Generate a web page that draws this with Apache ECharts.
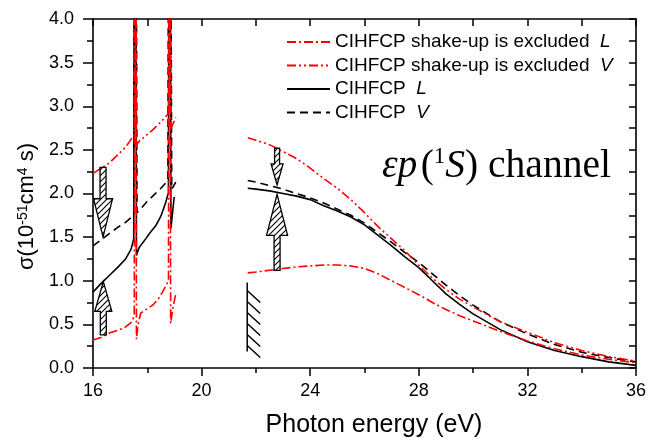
<!DOCTYPE html>
<html><head><meta charset="utf-8">
<script src="https://cdn.jsdelivr.net/npm/echarts@6/dist/echarts.min.js"></script>
<style>html,body{margin:0;padding:0;background:#fff}#c{width:662px;height:443px}</style>
</head><body><div id="c"></div>
<script>
// ---------- data ----------
const xTicks = [16, 20, 24, 28, 32, 36];
const yTicks = [0, 0.5, 1, 1.5, 2, 2.5, 3, 3.5, 4];

// left part (below 19.1 eV), with the two resonances
const redL_x = [16, 16.3, 16.6, 16.9, 17.2, 17.4, 17.52, 17.565, 17.6, 17.66, 17.76, 18.0, 18.2, 18.4, 18.56, 18.7, 18.78, 18.815, 18.86, 18.95, 19.05];
const redL_y = [0.32, 0.35, 0.40, 0.43, 0.47, 0.52, 0.59, 10, 0.33, 0.50, 0.63, 0.68, 0.72, 0.79, 0.87, 0.95, 1.00, 10, 0.51, 0.70, 0.85];
const redV_x = [16, 16.3, 16.6, 16.9, 17.2, 17.4, 17.52, 17.56, 17.6, 17.7, 17.9, 18.2, 18.5, 18.7, 18.79, 18.825, 18.87, 19.05];
const redV_y = [2.23, 2.29, 2.35, 2.44, 2.53, 2.62, 2.68, 10, 2.56, 2.60, 2.65, 2.73, 2.82, 2.89, 2.92, 10, 2.75, 2.87];
const solL_x = [16, 16.3, 16.6, 16.9, 17.2, 17.4, 17.5, 17.555, 17.6, 17.7, 17.94, 18.1, 18.31, 18.5, 18.68, 18.78, 18.815, 18.87, 18.99];
const solL_y = [0.87, 0.97, 1.06, 1.15, 1.25, 1.36, 1.48, 10, 1.29, 1.38, 1.48, 1.55, 1.63, 1.74, 1.90, 2.01, 10, 1.60, 1.96];
const dasV_x = [16, 16.3, 16.6, 16.9, 17.2, 17.5, 17.56, 17.62, 17.8, 18.0, 18.2, 18.5, 18.76, 18.82, 18.9, 19.05];
const dasV_y = [1.40, 1.47, 1.54, 1.61, 1.67, 1.75, 10, 1.78, 1.84, 1.91, 1.97, 2.06, 2.15, 10, 2.05, 2.13];

// right part (above 21.7 eV)
const xRight = [21.7, 22, 22.5, 23, 23.5, 24, 24.5, 25, 25.5, 26, 26.5, 27, 27.5, 28, 28.5, 29, 29.5, 30, 31, 32, 33, 34, 35, 36];
const redL_r = [1.09, 1.10, 1.12, 1.14, 1.16, 1.17, 1.18, 1.18, 1.17, 1.14, 1.08, 1.00, 0.92, 0.84, 0.75, 0.67, 0.60, 0.54, 0.42, 0.31, 0.22, 0.15, 0.10, 0.06];
const redV_r = [2.64, 2.61, 2.56, 2.48, 2.40, 2.29, 2.17, 2.06, 1.93, 1.78, 1.62, 1.48, 1.34, 1.18, 1.03, 0.90, 0.79, 0.70, 0.53, 0.41, 0.29, 0.20, 0.13, 0.08];
const solL_r = [2.06, 2.05, 2.03, 2.00, 1.97, 1.93, 1.86, 1.80, 1.73, 1.64, 1.52, 1.40, 1.27, 1.15, 1.00, 0.85, 0.73, 0.62, 0.44, 0.30, 0.20, 0.13, 0.07, 0.03];
const dasV_r = [2.15, 2.13, 2.09, 2.05, 2.00, 1.95, 1.89, 1.82, 1.75, 1.66, 1.55, 1.44, 1.32, 1.21, 1.08, 0.95, 0.83, 0.72, 0.53, 0.39, 0.27, 0.18, 0.12, 0.07];

// annotation arrows: [x, tail, headBase, tip]
const arrows = [
  [16.37, 2.30, 1.94, 1.50],
  [16.38, 0.38, 0.65, 0.99],
  [22.78, 2.52, 2.34, 2.10],
  [22.78, 1.12, 1.52, 1.99]
];
// hatched threshold marker: [x, top, bottom]
const threshold = [[21.68, 0.98, 0.19]];

const names = ['exL', 'exV', 'L', 'V'];
const legendText = {
  exL: '{n|CIHFCP shake-up is excluded}  {i|L}',
  exV: '{n|CIHFCP shake-up is excluded}  {i|V}',
  L: '{n|CIHFCP}  {i|L}',
  V: '{n|CIHFCP}  {i|V}'
};

// ---------- helpers ----------
const SANS = 'Liberation Sans, Arial, sans-serif';
const SERIF = 'Liberation Serif, Times New Roman, serif';
function pairs(xs, ys) { return xs.map((x, i) => [x, ys[i]]); }
function joined(xl, yl, yr) { return pairs(xl, yl).concat([[20, '-']]).concat(pairs(xRight, yr)); }

const pat = document.createElement('canvas');
pat.width = 6; pat.height = 6;
(function () {
  const c = pat.getContext('2d');
  c.fillStyle = '#fff'; c.fillRect(0, 0, 6, 6);
  c.strokeStyle = '#000'; c.lineWidth = 1.1;
  c.beginPath();
  c.moveTo(-1, 7); c.lineTo(7, -1);
  c.moveTo(-4, 4); c.lineTo(4, -4);
  c.moveTo(2, 10); c.lineTo(10, 2);
  c.stroke();
})();

const arrowW = [[6, 19], [6, 17], [5, 12], [6, 21]]; // shaft, head widths (px)

const chart = echarts.init(document.getElementById('c'), null, { renderer: 'canvas' });

const lineBase = { type: 'line', symbol: 'none', showSymbol: false, connectNulls: false, clip: true, smooth: false, z: 3 };

chart.setOption({
  animation: false,
  backgroundColor: '#fff',
  grid: { left: 93, right: 26, top: 19, bottom: 73, containLabel: false },
  legend: {
    orient: 'vertical', left: 281, top: 26.5,
    itemWidth: 43, itemHeight: 14, itemGap: 2.5,
    itemStyle: { opacity: 0 },
    data: names,
    formatter: n => legendText[n],
    textStyle: {
      color: '#000', fontFamily: SANS, fontSize: 19, lineHeight: 21,
      rich: {
        n: { fontFamily: SANS, fontSize: 19, color: '#000', lineHeight: 21 },
        i: { fontFamily: SANS, fontSize: 19, fontStyle: 'italic', color: '#000', lineHeight: 21 }
      }
    }
  },
  xAxis: [{
    type: 'value', position: 'bottom', min: 16, max: 36, interval: 4,
    name: 'Photon energy (eV)', nameLocation: 'middle', nameGap: 45,
    nameTextStyle: { fontFamily: SANS, fontSize: 25, color: '#000', padding: [0, 0, 0, 19] },
    axisLine: { show: true, onZero: false, lineStyle: { color: '#000', width: 1.6 } },
    axisTick: { show: true, inside: false, length: 8, lineStyle: { color: '#000', width: 1.5 } },
    minorTick: { show: true, splitNumber: 2, length: 5, lineStyle: { color: '#000', width: 1.5 } },
    axisLabel: { color: '#000', fontFamily: SANS, fontSize: 18, margin: 14, formatter: v => String(v) },
    splitLine: { show: false }
  }, {
    type: 'value', position: 'top', min: 16, max: 36, interval: 2,
    axisLine: { show: true, onZero: false, lineStyle: { color: '#000', width: 1.6 } },
    axisTick: { show: true, inside: true, length: 7, lineStyle: { color: '#000', width: 1.5 } },
    axisLabel: { show: false }, splitLine: { show: false }
  }],
  yAxis: [{
    type: 'value', position: 'left', min: 0, max: 4, interval: 0.5,
    name: '{a|σ(10}{s|-51}{a|cm}{s|4}{a| s)}', nameLocation: 'middle', nameGap: 50,
    nameTextStyle: {
      color: '#000', padding: [0, 0, 0, -26],
      rich: {
        a: { fontFamily: SANS, fontSize: 22, color: '#000' },
        s: { fontFamily: SANS, fontSize: 14, color: '#000', verticalAlign: 'top', padding: [0, 0, 8, 0] }
      }
    },
    axisLine: { show: true, onZero: false, lineStyle: { color: '#000', width: 1.6 } },
    axisTick: { show: true, inside: false, length: 10, lineStyle: { color: '#000', width: 1.5 } },
    minorTick: { show: true, splitNumber: 2, length: 6, lineStyle: { color: '#000', width: 1.5 } },
    axisLabel: { color: '#000', fontFamily: SANS, fontSize: 18, margin: 19, formatter: v => v.toFixed(1) },
    splitLine: { show: false }
  }, {
    type: 'value', position: 'right', min: 0, max: 4, interval: 0.25,
    axisLine: { show: true, onZero: false, lineStyle: { color: '#000', width: 1.6 } },
    axisTick: { show: true, inside: true, length: 7, lineStyle: { color: '#000', width: 1.5 } },
    axisLabel: { show: false }, splitLine: { show: false }
  }],
  series: [
    Object.assign({}, lineBase, { name: 'L', data: joined(solL_x, solL_y, solL_r),
      lineStyle: { color: '#000', width: 1.6, type: 'solid' }, itemStyle: { color: '#000' } }),
    Object.assign({}, lineBase, { name: 'V', data: joined(dasV_x, dasV_y, dasV_r),
      lineStyle: { color: '#000', width: 1.6, type: [8, 5] }, itemStyle: { color: '#000' } }),
    Object.assign({}, lineBase, { name: 'exL', data: joined(redL_x, redL_y, redL_r),
      lineStyle: { color: '#ff0000', width: 1.6, type: [9, 3, 2, 3] }, itemStyle: { color: '#ff0000' } }),
    Object.assign({}, lineBase, { name: 'exV', data: joined(redV_x, redV_y, redV_r),
      lineStyle: { color: '#ff0000', width: 1.6, type: [9, 3, 2, 3, 2, 3] }, itemStyle: { color: '#ff0000' } }),
    {
      type: 'custom', name: 'arrows', coordinateSystem: 'cartesian2d', z: 5, silent: true,
      data: arrows,
      renderItem: function (params, api) {
        const i = params.dataIndex;
        const x = api.value(0);
        const t = api.coord([x, api.value(1)]);
        const b = api.coord([x, api.value(2)]);
        const p = api.coord([x, api.value(3)]);
        const sw = arrowW[i][0] / 2, hw = arrowW[i][1] / 2, cx = t[0];
        return {
          type: 'polygon',
          shape: { points: [[cx - sw, t[1]], [cx + sw, t[1]], [cx + sw, b[1]], [cx + hw, b[1]], [cx, p[1]], [cx - hw, b[1]], [cx - sw, b[1]]] },
          style: { fill: { image: pat, repeat: 'repeat' }, stroke: '#000', lineWidth: 1.3 }
        };
      }
    },
    {
      type: 'custom', name: 'threshold', coordinateSystem: 'cartesian2d', z: 5, silent: true,
      data: threshold,
      renderItem: function (params, api) {
        const x = api.value(0);
        const top = api.coord([x, api.value(1)]);
        const bot = api.coord([x, api.value(2)]);
        const children = [{ type: 'line', shape: { x1: top[0], y1: top[1], x2: bot[0], y2: bot[1] }, style: { stroke: '#000', lineWidth: 1.5 } }];
        for (let y = top[1] + 8; y <= bot[1] - 4; y += 11) {
          children.push({ type: 'line', shape: { x1: top[0], y1: y, x2: top[0] + 13, y2: y + 12 }, style: { stroke: '#000', lineWidth: 1.5 } });
        }
        return { type: 'group', children: children };
      }
    }
  ],
  graphic: [{
    type: 'text', left: 382, top: 145, z: 10,
    style: {
      text: '{e|εp} {r|(}{s|1}{S|S}{r|) channel}',
      rich: {
        e: { fontFamily: SERIF, fontSize: 39.5, fontStyle: 'italic', color: '#000', lineHeight: 43 },
        r: { fontFamily: SERIF, fontSize: 39.5, color: '#000', lineHeight: 43 },
        S: { fontFamily: SERIF, fontSize: 39.5, fontStyle: 'italic', color: '#000', lineHeight: 43 },
        s: { fontFamily: SERIF, fontSize: 23, color: '#000', verticalAlign: 'top', lineHeight: 43, padding: [0, 0, 12, 0] }
      }
    }
  }]
});
</script></body></html>
